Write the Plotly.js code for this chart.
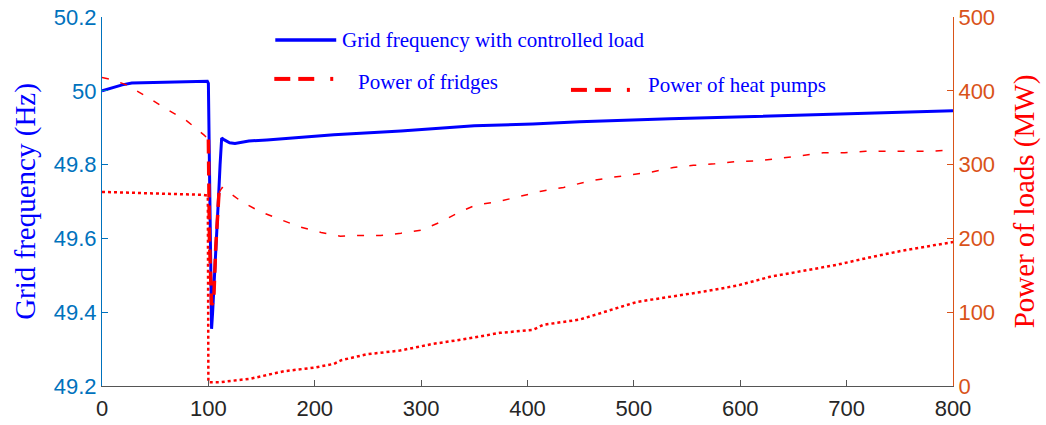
<!DOCTYPE html>
<html>
<head>
<meta charset="utf-8">
<script src="https://cdn.plot.ly/plotly-3.0.1.min.js"></script>
<style>html,body{margin:0;padding:0;background:#fff;}#chart{width:1046px;height:425px;}</style>
</head>
<body>
<div id="chart"></div>
<script>
// Grid frequency (Hz)
const freqTime = [0, 10, 19, 28, 50, 75, 99, 100, 100.5, 101, 101.5, 102, 102.5, 103, 104, 105, 106.5, 108, 109.7, 111, 112.5, 115, 120, 125, 138, 155, 218, 281, 343, 350, 405, 449, 534, 628, 721, 800];
const freqHz   = [50.000, 50.008, 50.016, 50.021, 50.022, 50.024, 50.026, 50.02, 49.9, 49.7, 49.55, 49.43, 49.37, 49.355, 49.40, 49.45, 49.54, 49.63, 49.72, 49.80, 49.872, 49.867, 49.859, 49.857, 49.864, 49.867, 49.881, 49.891, 49.902, 49.905, 49.910, 49.916, 49.924, 49.932, 49.940, 49.946];

// Upper red curve (MW)
const upperTime = [0, 10, 23, 42, 62, 80, 96, 100, 101, 103, 105, 107, 110, 113, 116, 131, 149, 166, 185, 206, 224, 243, 262, 281, 300, 318, 335, 351, 373, 393, 413, 434, 456, 476, 497, 517, 537, 556, 576, 596, 617, 637, 657, 678, 698, 718, 739, 759, 779, 800];
const upperMW   = [418, 415, 408, 392, 374, 359, 340, 334, 200, 110, 115, 190, 262, 269, 266, 250, 236, 227, 216, 208, 203, 204, 204, 207, 211, 222, 235, 245, 250, 257, 264, 269, 277, 282, 286, 290, 296, 299, 301, 304, 305, 308, 312, 316, 316, 318, 318, 318, 318, 320];

// Lower red curve (MW)
const lowerTime = [0, 50, 95, 99.5, 100, 101, 110, 140, 171, 200, 218, 225, 249, 280, 311, 343, 374, 405, 415, 449, 503, 566, 597, 628, 690, 721, 751, 783, 800];
const lowerMW   = [263, 261, 259, 258, 5, 5, 5, 10, 20, 25, 30, 35, 43, 48, 57, 64, 72, 76, 83, 90, 114, 128, 136, 148, 164, 174, 183, 191, 195];

const xTicks = [0, 100, 200, 300, 400, 500, 600, 700, 800];
const legendLabels = ['Grid frequency with controlled load', 'Power of fridges', 'Power of heat pumps'];

function sliceBy(xs, ys, lo, hi) {
  const ox = [], oy = [];
  for (let i = 0; i < xs.length; i++) if (xs[i] >= lo && xs[i] <= hi) { ox.push(xs[i]); oy.push(ys[i]); }
  return {x: ox, y: oy};
}
const upA = sliceBy(upperTime, upperMW, 0, 100);
const upDip = sliceBy(upperTime, upperMW, 100, 110);
const upC = sliceBy(upperTime, upperMW, 110, 800);

const red = '#ff0000';
const traces = [
  {x: freqTime, y: freqHz, type: 'scatter', mode: 'lines', line: {color: '#0000ff', width: 3}, yaxis: 'y', name: legendLabels[0]},
  {x: upA.x, y: upA.y, type: 'scatter', mode: 'lines', line: {color: red, width: 1.5, dash: '7px,12px'}, yaxis: 'y2', name: legendLabels[2]},
  {x: upDip.x, y: upDip.y, type: 'scatter', mode: 'lines', line: {color: red, width: 3.5, dash: '14px,8px'}, yaxis: 'y2', name: legendLabels[2]},
  {x: upC.x, y: upC.y, type: 'scatter', mode: 'lines', line: {color: red, width: 1.5, dash: '7px,12px'}, yaxis: 'y2', name: legendLabels[2]},
  {x: lowerTime, y: lowerMW, type: 'scatter', mode: 'lines', line: {color: red, width: 2.5, dash: 'dot'}, yaxis: 'y2', name: legendLabels[1]}
];

const tickFont = {family: 'Liberation Sans, Arial, sans-serif', size: 22};
const serif = 'Liberation Serif, Times New Roman, serif';

const Y = v => (386.5 - v) / 369.5;
const X = v => (v - 101.5) / 852;

function seg(x0, x1, y, color, w) {
  return {type: 'line', xref: 'paper', yref: 'paper', x0: X(x0), x1: X(x1), y0: Y(y), y1: Y(y), line: {color: color, width: w}};
}

const layout = {
  width: 1046, height: 425,
  margin: {l: 101.5, r: 92.5, t: 17, b: 38.5},
  paper_bgcolor: '#ffffff', plot_bgcolor: '#ffffff',
  showlegend: false,
  xaxis: {
    range: [0, 800], tickvals: xTicks, ticks: 'inside', ticklen: 6, tickcolor: '#555',
    showline: true, linecolor: '#555', linewidth: 1, showgrid: false, zeroline: false,
    ticklabelstandoff: 3,
    tickfont: Object.assign({color: '#262626'}, tickFont)
  },
  yaxis: {
    range: [49.2, 50.2], dtick: 0.2, tick0: 49.2, ticks: 'inside', ticklen: 6, tickcolor: '#0072BD',
    showline: true, linecolor: '#0072BD', linewidth: 1, showgrid: false, zeroline: false,
    tickfont: Object.assign({color: '#0072BD'}, tickFont),
    title: {text: 'Grid frequency (Hz)', font: {family: serif, size: 29, color: '#0000ff'}, standoff: 9}
  },
  yaxis2: {
    range: [0, 500], dtick: 100, overlaying: 'y', side: 'right', ticks: 'inside', ticklen: 6, tickcolor: '#D95319',
    showline: true, linecolor: '#D95319', linewidth: 1, showgrid: false, zeroline: false,
    tickfont: Object.assign({color: '#D95319'}, tickFont),
    title: {text: 'Power of loads (MW)', font: {family: serif, size: 29, color: '#ff0000'}, standoff: 19}
  },
  shapes: [
    seg(275, 336, 40, '#0000ff', 3.5),
    // fridges sample
    seg(274, 290, 79, red, 4), seg(298, 314, 79, red, 4), seg(330, 333, 79, red, 4),
    // heat pumps sample
    seg(571, 587, 90, red, 4), seg(595, 611, 90, red, 4), seg(627, 630, 90, red, 4)
  ],
  annotations: [
    {text: legendLabels[0], xref: 'paper', yref: 'paper', x: X(340), y: Y(40), xanchor: 'left', yanchor: 'middle', showarrow: false, font: {family: serif, size: 21, color: '#0000ff'}},
    {text: legendLabels[1], xref: 'paper', yref: 'paper', x: X(356), y: Y(82), xanchor: 'left', yanchor: 'middle', showarrow: false, font: {family: serif, size: 21, color: '#0000ff'}},
    {text: legendLabels[2], xref: 'paper', yref: 'paper', x: X(646), y: Y(85), xanchor: 'left', yanchor: 'middle', showarrow: false, font: {family: serif, size: 21, color: '#0000ff'}}
  ]
};

Plotly.newPlot('chart', traces, layout, {displayModeBar: false, staticPlot: true});
</script>
</body>
</html>
